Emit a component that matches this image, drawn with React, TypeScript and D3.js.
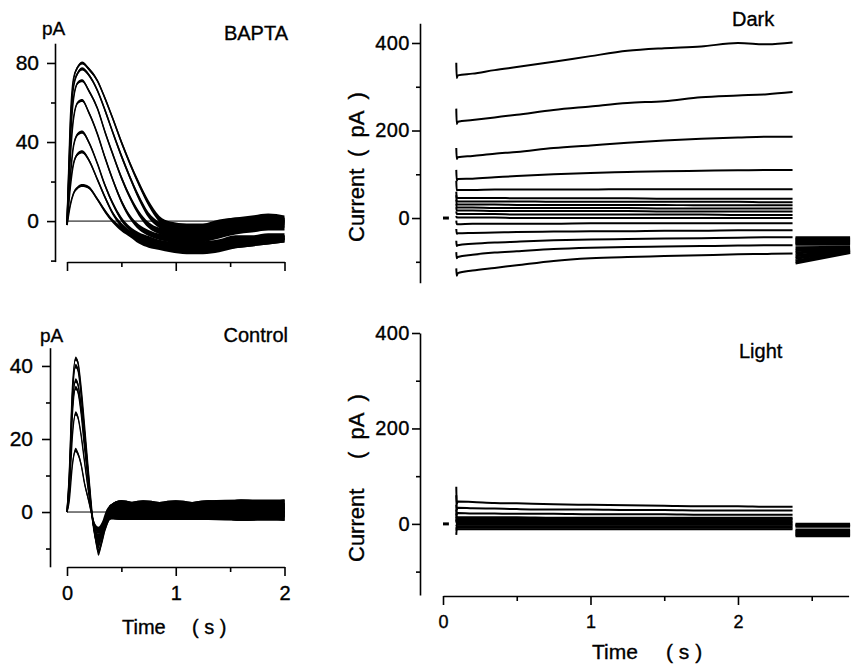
import React, { useEffect, useRef } from 'react'
import * as d3 from 'd3'

// ---- BAPTA (top left), pA vs s ----
const bTime = [0, 0.03, 0.06, 0.1, 0.14, 0.2, 0.28, 0.35, 0.42, 0.5, 0.58, 0.66, 0.75, 0.85, 0.95, 1.1, 1.25, 1.4, 1.55, 1.7, 1.85, 2.0]
const bNoise = [0.5, 0.8, 0.8, 0.8, 0.8, 0.8, 0.8, 1, 1, 1.2, 1.2, 1.4, 1.5, 1.6, 1.8, 1.8, 1.8, 1.8, 1.8, 1.8, 1.8, 1.8]
const bTraces = [
    [-2, 50, 72, 78, 80, 77, 71, 62, 52, 40, 29, 19, 9, 1, -2, -3, -3, -1, 0, 1, 2, 1],
    [-2, 45, 68, 75, 77, 74, 66, 56, 45, 33, 22, 12, 3, -2, -4, -5, -4, -2, 0, 0, 1, 0],
    [-2, 40, 62, 70, 71, 66, 57, 45, 34, 22, 12, 4, -2, -5, -6, -7, -6, -4, -2, -1, 0, -1],
    [-2, 32, 52, 60, 61, 55, 44, 32, 21, 10, 2, -3, -6, -8, -9, -10, -9, -7, -5, -4, -3, -3],
    [-2, 22, 38, 44, 45, 40, 29, 18, 9, 1, -4, -7, -9, -11, -12, -12, -12, -11, -9, -9, -8, -8],
    [-2, 17, 29, 34, 35, 31, 21, 12, 4, -2, -6, -9, -11, -12, -13, -14, -14, -13, -12, -11, -10, -9],
    [-2, 8, 14, 17, 18, 17, 11, 5, 0, -4, -7, -10, -12, -13, -14, -15, -15, -14, -12, -11, -10, -9],
]

// ---- Control (bottom left) ----
const cTime = [0, 0.02, 0.05, 0.08, 0.1, 0.13, 0.16, 0.2, 0.23, 0.26, 0.29, 0.32, 0.36, 0.4, 0.5, 0.7, 1.0, 1.3, 1.6, 2.0]
const cNoise = [0.3, 0.5, 0.6, 0.6, 0.6, 0.6, 0.6, 0.6, 0.6, 0.8, 1, 1.2, 1.5, 2, 2.2, 2.2, 2.2, 2.2, 2.4, 2.4]
const cTraces = [
    [0, 10, 34, 42, 41, 34, 24, 10, 0, -7, -11, -8, -3, 0, 1, 0, 1, 0, 1, 1],
    [0, 9, 32, 40, 39, 32, 22, 9, -1, -7, -9, -6, -3, 0, 0, 1, 0, 1, 0, 1],
    [0, 8, 29, 36, 35, 29, 20, 8, -1, -6, -8, -6, -2, 0, 1, 0, 0, 1, 1, 0],
    [0, 7, 27, 34, 33, 27, 18, 7, -1, -6, -8, -5, -2, 0, 0, 0, 1, 0, 0, 1],
    [0, 5, 21, 27, 26, 21, 14, 5, -1, -5, -7, -5, -2, 0, 0, 1, 0, 0, 1, 0],
    [0, 3, 13, 17, 16, 13, 8, 3, -1, -4, -5, -4, -1, 0, 1, 0, 0, 1, 0, 0],
]

// ---- Dark / Light (right), step family ----
const sTime = [0.09, 0.093, 0.1, 0.2, 0.35, 0.5, 0.75, 1.0, 1.25, 1.5, 1.75, 2.0, 2.2, 2.37]
const darkTraces = [
    [355, 320, 326, 330, 338, 345, 357, 370, 382, 388, 392, 400, 397, 401],
    [250, 215, 220, 224, 230, 236, 247, 255, 263, 267, 276, 280, 283, 288],
    [160, 135, 139, 142, 147, 151, 160, 166, 172, 177, 181, 184, 186, 186],
    [110, 86, 89, 90, 93, 96, 100, 103, 105, 107, 108, 109, 110, 110],
    [85, 63, 64, 64, 65, 65, 65, 65, 66, 66, 66, 66, 66, 66],
    [60, 47, 46, 46, 46, 45, 45, 45, 45, 44, 44, 44, 44, 44],
    [52, 39, 38, 38, 38, 38, 37, 37, 37, 37, 37, 37, 36, 36],
    [42, 31, 31, 31, 31, 30, 30, 30, 30, 30, 29, 29, 29, 29],
    [33, 24, 24, 24, 23, 23, 23, 23, 23, 22, 22, 22, 22, 22],
    [25, 17, 17, 17, 16, 16, 16, 16, 16, 15, 15, 15, 15, 15],
    [15, 9, 9, 9, 9, 8, 8, 8, 8, 8, 8, 7, 7, 7],
    [5, 1, 1, 1, 1, 0, 0, 0, 0, 0, 0, 0, 0, 0],
    [-6, -14, -14, -13, -13, -13, -13, -12, -12, -12, -12, -12, -12, -12],
    [-25, -36, -35, -34, -33, -32, -31, -30, -30, -29, -29, -28, -28, -28],
    [-52, -64, -62, -59, -56, -54, -51, -49, -48, -47, -46, -45, -44, -44],
    [-78, -92, -89, -84, -79, -76, -71, -68, -66, -65, -64, -63, -62, -62],
    [-115, -132, -126, -120, -114, -108, -98, -92, -89, -87, -85, -83, -82, -81],
]
const lightTraces = [
    [78, 42, 47, 46, 44, 43, 41, 40, 39, 38, 37, 37, 36, 36],
    [60, 30, 34, 33, 32, 31, 30, 30, 29, 29, 28, 28, 28, 28],
    [40, 20, 23, 22, 22, 21, 21, 20, 20, 20, 19, 19, 19, 19],
    [30, 13, 14, 14, 14, 14, 13, 13, 13, 13, 13, 13, 13, 13],
    [22, 9, 10, 10, 10, 10, 10, 10, 10, 10, 10, 10, 10, 10],
    [15, 6, 7, 7, 7, 7, 7, 7, 7, 7, 7, 7, 7, 7],
    [10, 3, 4, 4, 4, 4, 4, 4, 4, 4, 4, 4, 4, 4],
    [8, 1, 1, 1, 1, 1, 1, 1, 1, 1, 1, 1, 1, 1],
    [-5, -2, -2, -2, -2, -2, -2, -2, -2, -2, -2, -2, -2, -2],
    [-10, -5, -5, -5, -5, -5, -5, -5, -5, -5, -5, -5, -5, -5],
    [-14, -8, -8, -8, -8, -8, -8, -8, -8, -8, -8, -8, -8, -8],
    [-23, -11, -11, -11, -11, -11, -11, -11, -11, -11, -11, -11, -11, -11],
]
// tail currents after the step
const tailTime = [2.39, 2.76]
const darkTails = [
    [-45, -45], [-48, -48], [-51, -51], [-54, -54], [-57, -57], [-60, -60],
    [-68, -67], [-74, -69], [-80, -71], [-86, -73], [-92, -75], [-98, -77], [-103, -79],
]
const lightTails = [[-1, -1], [-3, -3], [-5, -5], [-13, -13], [-16, -16], [-19, -19], [-22, -22], [-25, -25]]

const FONT = '"Liberation Sans", Arial, Helvetica, sans-serif'

function traces(g, x, y, time, rows, noise, width) {
    rows.forEach(vals => {
        const pts = time.map((t, i) => ({ t, v: vals[i], n: noise ? noise[i] : 0 }))
        if (noise) {
            const area = d3.area().x(d => x(d.t)).y0(d => y(d.v - d.n)).y1(d => y(d.v + d.n)).curve(d3.curveMonotoneX)
            g.append('path').attr('d', area(pts)).attr('fill', '#000')
        }
        const line = d3.line().x(d => x(d.t)).y(d => y(d.v)).curve(d3.curveMonotoneX)
        g.append('path').attr('d', line(pts)).attr('fill', 'none').attr('stroke', '#000').attr('stroke-width', width)
    })
}

function styleAxis(a, size) {
    a.attr('font-family', FONT).attr('font-size', size)
    a.selectAll('path, line').attr('stroke', '#000').attr('stroke-width', 1.6)
    a.selectAll('text').attr('fill', '#000').attr('stroke', '#000').attr('stroke-width', 0.35)
}

function yAxis(svg, y, x0, major, minor, pad, size, spacing = 0) {
    const a = svg.append('g').attr('transform', `translate(${x0},0)`)
        .call(d3.axisLeft(y).tickValues(minor).tickSize(4).tickSizeOuter(0).tickFormat(() => ''))
    styleAxis(a, size)
    const b = svg.append('g').attr('transform', `translate(${x0},0)`)
        .call(d3.axisLeft(y).tickValues(major).tickSize(8).tickPadding(pad).tickFormat(d3.format('d')))
    b.select('.domain').remove()
    styleAxis(b, size)
    b.selectAll('text').attr('letter-spacing', spacing)
}

function xAxis(svg, x, y0, major, minor, pad, size, labels) {
    const a = svg.append('g').attr('transform', `translate(0,${y0})`)
        .call(d3.axisBottom(x).tickValues(minor).tickSize(5).tickSizeOuter(0).tickFormat(() => ''))
    styleAxis(a, size)
    const b = svg.append('g').attr('transform', `translate(0,${y0})`)
        .call(d3.axisBottom(x).tickValues(major).tickSize(9).tickPadding(pad).tickFormat(labels ? d3.format('d') : () => ''))
    b.select('.domain').remove()
    styleAxis(b, size)
}

function label(svg, x, y, txt, size, anchor = 'start', rotate = false) {
    const t = svg.append('text').text(txt).attr('font-family', FONT).attr('font-size', size)
        .attr('text-anchor', anchor).attr('fill', '#000').attr('stroke', '#000').attr('stroke-width', 0.35)
        .style('white-space', 'pre')
    if (rotate) t.attr('transform', `translate(${x},${y}) rotate(-90)`)
    else t.attr('x', x).attr('y', y)
    return t
}

export default function App() {
    const ref = useRef(null)

    useEffect(() => {
        const svg = d3.select(ref.current)
        svg.selectAll('*').remove()

        // ---------- top left: BAPTA ----------
        const xl = d3.scaleLinear().domain([0, 2]).range([67, 284.5])
        const yb = d3.scaleLinear().domain([-20.5, 90]).range([261.6, 43.2])
        const g1 = svg.append('g')
        g1.append('line').attr('x1', xl(0)).attr('x2', xl(2)).attr('y1', yb(0)).attr('y2', yb(0)).attr('stroke', '#000').attr('stroke-width', 1)
        traces(g1, xl, yb, bTime, bTraces, bNoise, 1.6)
        yAxis(svg, yb, 55, [0, 40, 80], [-20, 20, 60], 8, 21)
        xAxis(svg, xl, 262, [0, 1, 2], [0.5, 1.5], 11, 20, false)
        label(svg, 42, 35, 'pA', 19)
        label(svg, 288, 40, 'BAPTA', 20, 'end')

        // ---------- bottom left: Control ----------
        const yc = d3.scaleLinear().domain([-15, 45]).range([566.8, 347.7])
        const g2 = svg.append('g')
        g2.append('line').attr('x1', xl(0)).attr('x2', xl(2)).attr('y1', yc(0)).attr('y2', yc(0)).attr('stroke', '#000').attr('stroke-width', 1)
        traces(g2, xl, yc, cTime, cTraces, cNoise, 1.4)
        yAxis(svg, yc, 50, [0, 20, 40], [-10, 10, 30], 9, 21)
        xAxis(svg, xl, 567, [0, 1, 2], [0.5, 1.5], 10, 20, true)
        label(svg, 40, 342, 'pA', 19)
        label(svg, 288, 342, 'Control', 20, 'end')
        label(svg, 122, 634, 'Time', 20)
        label(svg, 192, 634, '( s )', 20)

        // ---------- right panels ----------
        const xr = d3.scaleLinear().domain([0, 2.75]).range([443, 848.6])

        // Dark
        const yd = d3.scaleLinear().domain([-148, 445]).range([282.8, 23.3])
        const g3 = svg.append('g')
        traces(g3, xr, yd, sTime, darkTraces, null, 2)
        traces(g3, xr, yd, tailTime, darkTails, null, 3)
        g3.append('line').attr('x1', xr(0)).attr('x2', xr(0.04)).attr('y1', yd(0)).attr('y2', yd(0)).attr('stroke', '#000').attr('stroke-width', 3)
        yAxis(svg, yd, 420, [0, 200, 400], [-100, 100, 300], 2, 20, 0.5)
        label(svg, 732, 26, 'Dark', 20)
        label(svg, 364, 242, 'Current', 22, 'start', true)
        label(svg, 364, 157, '(  pA  )', 22, 'start', true)

        // Light
        const yli = d3.scaleLinear().domain([-149, 400]).range([595, 333])
        const g4 = svg.append('g')
        traces(g4, xr, yli, sTime, lightTraces, null, 2)
        traces(g4, xr, yli, tailTime, lightTails, null, 3)
        g4.append('line').attr('x1', xr(0)).attr('x2', xr(0.04)).attr('y1', yli(0)).attr('y2', yli(0)).attr('stroke', '#000').attr('stroke-width', 3)
        yAxis(svg, yli, 420, [0, 200, 400], [-100, 100, 300], 2, 20, 0.5)
        xAxis(svg, xr, 596, [0, 1, 2], [0.5, 1.5, 2.5], 10, 18, true)
        label(svg, 739, 358, 'Light', 20)
        label(svg, 364, 562, 'Current', 22, 'start', true)
        label(svg, 364, 459, '(  pA  )', 22, 'start', true)
        label(svg, 592, 659, 'Time', 21)
        label(svg, 666, 659, '( s )', 21)
    }, [])

    return <svg ref={ref} width={860} height={666} style={{ position: 'absolute', left: 0, top: 0, background: '#fff' }} />
}
